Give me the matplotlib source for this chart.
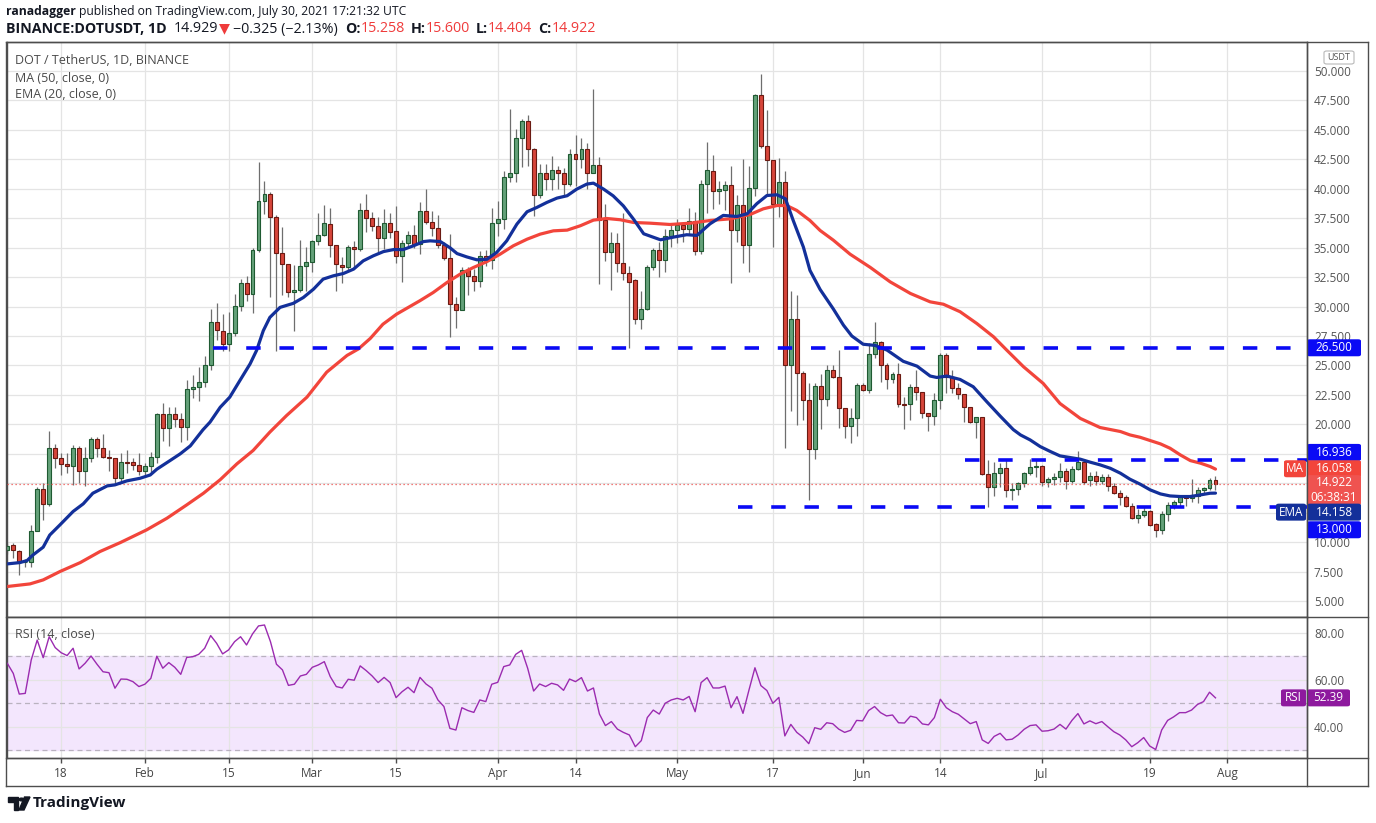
import matplotlib
matplotlib.use("Agg")
import matplotlib.pyplot as plt
import matplotlib.patches as mpatches
from matplotlib.lines import Line2D
import numpy as np
import pandas as pd

W, H = 1376, 823

# ---- data (DOT/USDT daily, Binance) ----
dates = pd.date_range("2021-01-09", "2021-07-30", freq="D")

opens = [9.34, 9.73, 9.28, 8.29, 8.29, 10.95, 14.49, 13.22, 17.97, 17.12,
         16.64, 16.47, 17.97, 16.05, 17.12, 18.74, 17.97, 17.20, 17.10, 15.42,
         16.84, 16.78, 16.52, 16.07, 16.44, 17.20, 20.86, 19.67, 20.86, 20.44,
         19.76, 22.99, 23.19, 23.59, 25.03, 28.68, 27.95, 26.82, 27.75, 30.04,
         31.99, 31.06, 34.79, 38.94, 39.56, 37.58, 34.53, 33.60, 31.23, 31.40,
         33.43, 33.80, 35.58, 36.09, 37.00, 35.19, 33.52, 33.32, 35.05, 34.93,
         38.18, 37.50, 36.82, 35.86, 37.10, 36.40, 34.28, 35.38, 36.06, 35.30,
         38.10, 37.14, 36.66, 35.24, 34.16, 30.20, 29.75, 33.09, 32.58, 32.13,
         34.28, 33.94, 37.08, 37.42, 40.96, 41.30, 44.30, 45.75, 43.37, 39.46,
         41.33, 40.82, 41.59, 41.33, 40.40, 42.95, 42.52, 43.37, 41.33, 42.01,
         37.37, 34.67, 35.38, 33.74, 32.89, 32.24, 28.96, 29.81, 33.38, 34.82,
         33.97, 35.98, 36.52, 36.94, 36.60, 37.28, 34.71, 40.42, 41.53, 39.83,
         39.89, 40.34, 36.52, 38.64, 35.19, 40.03, 47.98, 43.65, 42.46, 38.73,
         40.60, 25.06, 28.96, 24.38, 22.03, 17.92, 23.24, 22.17, 24.60, 23.98,
         21.35, 19.90, 20.50, 23.30, 22.88, 25.93, 27.00, 25.00, 23.81, 24.24,
         21.72, 21.69, 23.19, 22.71, 20.92, 20.72, 22.03, 25.88, 23.98, 23.05,
         22.54, 21.43, 20.22, 20.58, 15.74, 14.70, 15.83, 16.25, 14.40, 14.47,
         14.98, 15.85, 16.36, 16.47, 15.14, 15.34, 15.51, 16.02, 15.23, 16.19,
         16.84, 15.28, 15.65, 15.23, 15.51, 14.77, 14.21, 13.81, 13.10, 12.03,
         12.28, 12.65, 11.52, 11.01, 12.37, 13.13, 13.41, 13.81, 13.73, 13.95,
         14.43, 14.58, 15.258]
highs = [9.90, 9.96, 9.35, 8.55, 11.46, 14.66, 15.00, 19.44, 18.34, 17.55,
         17.55, 18.25, 18.17, 18.05, 18.90, 18.90, 19.20, 17.83, 17.18, 17.55,
         17.83, 17.12, 17.55, 16.70, 17.69, 20.95, 21.85, 21.50, 21.50, 20.95,
         23.80, 24.20, 24.90, 25.76, 29.78, 30.30, 29.36, 29.50, 31.06, 32.36,
         32.60, 34.96, 42.27, 40.66, 39.73, 37.78, 36.77, 33.60, 33.50, 35.66,
         35.07, 35.64, 37.95, 38.63, 38.40, 35.24, 34.22, 35.24, 35.58, 38.83,
         39.53, 38.04, 37.61, 38.26, 37.98, 38.55, 35.64, 36.43, 36.93, 38.90,
         40.00, 38.13, 37.80, 35.44, 36.20, 30.77, 33.37, 33.40, 33.20, 34.73,
         34.82, 38.33, 38.98, 41.47, 46.80, 45.06, 45.90, 46.30, 43.46, 42.10,
         42.10, 42.80, 41.93, 41.80, 43.40, 44.60, 44.30, 43.85, 48.50, 42.66,
         38.75, 36.37, 36.28, 37.96, 33.46, 32.30, 31.28, 33.50, 34.99, 35.47,
         36.60, 37.03, 37.45, 37.20, 38.36, 38.02, 40.76, 43.96, 42.83, 40.70,
         40.65, 41.90, 39.50, 42.50, 41.90, 48.07, 49.76, 46.70, 42.46, 42.63,
         41.47, 31.28, 31.00, 24.57, 23.50, 23.50, 24.29, 25.03, 25.00, 26.30,
         21.35, 21.35, 23.47, 23.53, 26.87, 28.65, 27.10, 25.17, 24.46, 25.25,
         22.28, 23.42, 24.60, 22.71, 20.92, 22.62, 26.08, 26.08, 24.60, 23.47,
         22.54, 21.49, 20.64, 20.64, 16.96, 16.82, 16.68, 16.96, 15.00, 15.12,
         15.97, 17.04, 16.98, 16.56, 15.57, 15.85, 16.70, 16.27, 16.42, 17.75,
         17.04, 15.99, 16.02, 15.79, 15.79, 15.06, 14.43, 14.00, 13.36, 12.79,
         13.02, 12.74, 11.60, 12.60, 13.44, 13.58, 14.00, 14.00, 15.34, 14.66,
         14.72, 15.48, 15.600]
lows = [9.00, 8.63, 7.22, 7.90, 7.90, 10.90, 11.85, 13.10, 16.27, 15.70,
        15.90, 14.86, 15.00, 14.77, 16.77, 17.20, 17.10, 16.00, 14.98, 15.14,
        15.90, 16.13, 15.70, 15.70, 15.96, 16.70, 18.55, 18.20, 19.80, 18.50,
        18.65, 22.26, 22.00, 23.20, 24.60, 27.20, 26.25, 26.25, 27.53, 29.60,
        30.50, 29.42, 34.67, 37.90, 30.77, 26.25, 31.00, 30.80, 27.95, 31.20,
        31.34, 32.95, 35.20, 36.00, 34.22, 31.34, 32.00, 33.04, 33.32, 34.73,
        36.30, 36.43, 34.45, 34.87, 35.86, 33.74, 32.05, 35.00, 35.00, 34.50,
        37.05, 36.00, 35.00, 33.94, 27.40, 28.20, 29.70, 31.00, 31.30, 31.70,
        33.43, 33.20, 35.95, 36.57, 40.60, 40.60, 41.84, 41.90, 37.70, 39.18,
        39.89, 39.86, 39.95, 39.40, 40.25, 40.25, 41.73, 39.97, 41.33, 31.95,
        33.88, 31.42, 32.97, 32.24, 26.50, 28.50, 28.10, 29.67, 33.12, 32.50,
        32.92, 35.05, 35.41, 35.47, 36.18, 34.34, 34.48, 37.93, 38.25, 38.67,
        38.20, 31.99, 35.47, 33.69, 32.92, 39.43, 43.48, 39.58, 35.05, 37.60,
        17.98, 21.12, 19.96, 20.33, 13.60, 17.07, 19.62, 21.55, 23.90, 19.65,
        18.80, 18.38, 19.00, 22.85, 22.62, 25.65, 23.60, 22.96, 23.47, 21.50,
        19.57, 20.36, 22.06, 20.50, 19.45, 19.93, 21.26, 22.62, 22.62, 22.11,
        20.20, 20.13, 18.80, 15.69, 13.00, 13.90, 14.70, 13.85, 13.60, 14.00,
        14.70, 15.70, 15.57, 14.77, 14.66, 14.86, 15.14, 14.49, 15.00, 16.08,
        14.94, 14.77, 14.86, 14.94, 14.38, 14.09, 13.16, 13.02, 11.94, 11.66,
        12.11, 11.38, 10.41, 10.70, 11.83, 12.79, 13.07, 13.07, 13.44, 13.36,
        14.15, 14.43, 14.404]
closes = [9.71, 9.34, 8.29, 8.35, 10.95, 14.49, 13.22, 17.97, 17.12, 16.60,
          16.47, 17.97, 16.05, 17.12, 18.74, 17.97, 17.20, 17.10, 15.42, 16.84,
          16.75, 16.52, 16.07, 16.44, 17.20, 20.86, 19.67, 20.86, 20.44, 19.76,
          22.99, 23.19, 23.59, 25.03, 28.68, 28.03, 26.82, 27.75, 30.04, 31.99,
          31.06, 34.79, 38.94, 39.56, 37.58, 34.53, 33.60, 31.23, 31.40, 33.43,
          33.80, 35.58, 36.09, 37.10, 35.19, 33.60, 33.32, 35.02, 34.93, 38.18,
          37.50, 36.82, 35.86, 37.10, 36.37, 34.28, 35.38, 36.06, 35.30, 38.10,
          37.14, 36.66, 35.24, 34.16, 30.20, 29.75, 33.14, 32.58, 32.13, 34.28,
          33.94, 37.08, 37.42, 40.96, 41.30, 44.30, 45.75, 43.37, 39.46, 41.33,
          40.82, 41.59, 41.33, 40.40, 42.95, 42.52, 43.37, 41.33, 42.01, 37.37,
          34.67, 35.38, 33.74, 32.89, 32.12, 28.95, 29.81, 33.38, 34.82, 33.97,
          35.98, 36.52, 36.94, 36.60, 37.28, 34.71, 40.42, 41.61, 39.83, 39.94,
          40.34, 36.52, 38.64, 35.19, 40.03, 47.98, 43.65, 42.46, 38.73, 40.60,
          25.06, 28.96, 24.38, 22.03, 17.92, 23.24, 22.17, 24.60, 23.98, 21.35,
          19.90, 20.50, 23.30, 22.88, 25.93, 27.00, 25.00, 23.81, 24.24, 21.69,
          21.66, 23.19, 22.71, 20.92, 20.72, 22.03, 25.88, 23.98, 23.05, 22.54,
          21.43, 20.22, 20.58, 15.74, 14.70, 15.83, 16.25, 14.41, 14.50, 14.98,
          15.85, 16.39, 16.47, 15.14, 15.34, 15.51, 16.02, 15.23, 16.19, 16.84,
          15.14, 15.65, 15.23, 15.51, 14.77, 14.21, 13.81, 13.10, 12.03, 12.28,
          12.65, 11.41, 11.01, 12.37, 13.13, 13.41, 13.81, 13.73, 14.01, 14.43,
          14.58, 15.26, 14.922]

# moving averages, sampled along the drawn lines (day index, value)
ma_days = [0, 3.8, 6.0, 8.8, 12.2, 15.5, 18.9, 23.3, 26.7, 30.0, 32.8, 35.6,
           38.4, 41.1, 43.9, 46.7, 50.1, 53.4, 56.8, 58.7, 60.7, 62.8, 65.1,
           69.0, 71.2, 73.5, 75.7, 77.9, 80.2, 82.4, 84.6, 86.9, 89.1, 91.3,
           93.6, 95.8, 98.0, 100.2, 102.5, 104.7, 107.5, 110.8, 114.2, 117.5,
           120.9, 124.2, 126.4, 128.7, 130.3, 132.0, 134.2, 135.9, 138.1, 140.9,
           144.3, 147.6, 151.0, 154.3, 156.5, 159.3, 162.1, 164.9, 167.1, 169.9,
           173.2, 176.0, 179.4, 182.7, 186.1, 187.7, 189.4, 191.1, 192.8, 194.4,
           196.1, 197.8, 199.5, 201.1, 202.0]
ma_vals = [6.23, 6.45, 6.79, 7.50, 8.26, 9.20, 9.96, 11.04, 12.03, 13.16, 14.15,
           15.30, 16.65, 17.78, 19.34, 20.75, 22.31, 24.43, 25.85, 26.40, 27.30,
           28.50, 29.36, 30.50, 31.19, 32.04, 32.75, 33.31, 33.82, 34.45, 35.16,
           35.72, 36.15, 36.43, 36.49, 36.86, 37.34, 37.48, 37.37, 37.14, 37.08,
           36.97, 37.08, 37.31, 37.45, 37.82, 38.30, 38.58, 38.58, 38.16, 37.31,
           36.46, 35.64, 34.45, 33.32, 32.10, 31.11, 30.40, 30.20, 29.56, 28.56,
           27.43, 26.30, 24.89, 23.47, 21.77, 20.50, 19.73, 19.39, 19.10, 18.90,
           18.62, 18.34, 17.97, 17.41, 16.92, 16.70, 16.42, 16.20]
ema_days = [0, 2.1, 3.3, 4.3, 6.0, 7.1, 8.8, 11.0, 12.7, 14.3, 16.7, 18.0,
            20.0, 22.2, 23.9, 25.0, 27.2, 28.9, 30.6, 32.7, 33.9, 35.6, 37.2,
            38.9, 40.6, 41.7, 42.8, 43.9, 45.6, 47.8, 49.5, 51.2, 52.8, 54.5,
            56.2, 57.9, 59.5, 61.2, 62.9, 64.6, 66.2, 67.9, 69.6, 70.7, 72.4,
            74.0, 75.2, 76.8, 78.5, 80.2, 81.8, 83.5, 85.2, 86.9, 88.5, 90.2,
            91.9, 93.6, 95.2, 96.9, 98.0, 99.7, 101.3, 103.0, 104.7, 106.4,
            109.2, 111.4, 113.6, 115.3, 117.5, 119.7, 122.0, 123.7, 125.3,
            127.0, 128.7, 130.1, 131.4, 133.1, 134.2, 135.9, 138.1, 139.8,
            141.2, 143.1, 145.1, 147.1, 149.8, 152.1, 154.3, 155.4, 157.1,
            159.3, 161.5, 163.8, 166.0, 168.2, 169.4, 171.0, 172.7, 174.4,
            176.0, 177.7, 179.4, 181.1, 182.7, 184.4, 186.1, 187.7, 189.4,
            191.1, 192.8, 194.4, 196.1, 197.8, 199.5, 201.1, 202.0]
ema_vals = [8.15, 8.26, 8.43, 8.91, 9.57, 10.60, 11.46, 12.60, 13.25, 14.15,
            14.77, 14.86, 15.20, 15.42, 15.70, 16.19, 16.92, 17.49, 18.17,
            19.53, 20.19, 21.45, 22.31, 23.73, 25.14, 26.30, 27.95, 29.08,
            29.93, 30.27, 30.77, 31.48, 32.33, 32.61, 32.81, 33.18, 33.88,
            34.31, 34.67, 34.84, 34.84, 35.16, 35.52, 35.58, 35.52, 35.00,
            34.50, 34.22, 33.97, 34.02, 34.59, 35.58, 37.00, 38.05, 38.41,
            38.84, 39.21, 39.41, 39.97, 40.40, 40.48, 39.97, 39.40, 38.55,
            37.42, 36.18, 35.67, 35.90, 36.10, 36.04, 37.03, 37.74, 37.65,
            37.88, 38.73, 39.43, 39.49, 39.15, 37.31, 35.05, 33.07, 31.45,
            29.80, 28.42, 27.50, 26.80, 26.70, 26.30, 25.35, 24.94, 24.10,
            23.98, 24.10, 23.81, 23.19, 21.90, 20.70, 19.55, 19.10, 18.68,
            18.11, 17.69, 17.32, 17.18, 17.04, 16.78, 16.56, 16.27, 15.85,
            15.34, 14.92, 14.43, 14.09, 13.92, 13.87, 13.87, 14.01, 14.15,
            14.16]

rsi = [67.1, 62.8, 54.0, 54.3, 68.5, 77.0, 69.5, 78.4, 73.8, 71.6,
       70.4, 73.5, 64.7, 67.1, 70.2, 66.7, 63.5, 63.1, 56.5, 60.4,
       60.3, 59.3, 57.2, 58.2, 60.7, 70.1, 65.0, 67.4, 65.4, 62.4,
       69.6, 69.9, 70.9, 73.5, 78.9, 75.6, 71.1, 72.8, 76.3, 78.4,
       74.9, 79.6, 83.0, 83.4, 76.3, 66.7, 64.3, 57.7, 58.2, 61.7,
       62.4, 65.4, 66.4, 67.8, 61.4, 57.2, 56.6, 60.3, 59.9, 66.0,
       64.0, 61.7, 58.9, 61.1, 58.9, 52.5, 55.0, 56.9, 54.6, 61.1,
       58.3, 56.5, 51.5, 48.7, 39.4, 38.7, 48.2, 47.0, 46.2, 51.5,
       50.8, 58.2, 59.0, 65.7, 66.4, 70.9, 72.6, 65.0, 55.3, 58.3,
       57.2, 58.6, 57.9, 55.6, 60.4, 59.3, 61.0, 55.3, 56.6, 45.5,
       40.6, 42.3, 39.1, 37.7, 36.6, 31.6, 34.2, 44.0, 47.2, 45.5,
       50.1, 51.5, 52.2, 51.5, 53.0, 46.5, 58.9, 61.0, 56.6, 56.6,
       57.4, 48.2, 52.9, 45.8, 55.7, 65.2, 57.6, 55.5, 50.1, 52.6,
       36.2, 41.1, 37.7, 35.7, 32.9, 39.7, 39.0, 41.8, 41.4, 39.1,
       37.7, 38.6, 42.8, 42.6, 47.0, 48.7, 46.1, 44.7, 45.1, 41.8,
       41.7, 44.6, 44.0, 41.3, 40.9, 44.0, 51.8, 48.2, 46.5, 45.4,
       43.4, 41.4, 42.3, 34.5, 33.0, 36.0, 37.3, 34.5, 34.8, 36.6,
       39.0, 40.6, 40.9, 38.2, 38.4, 39.1, 41.1, 39.1, 42.8, 45.7,
       41.3, 42.6, 41.4, 42.3, 40.1, 38.0, 36.6, 34.5, 31.6, 33.3,
       35.5, 31.9, 30.4, 38.7, 42.8, 44.3, 46.1, 46.1, 47.2, 49.6,
       50.8, 54.8, 52.4]

# horizontal levels drawn on the chart and the day each one starts
levels = [26.5, 16.936, 13.0]
level_start = [34.4, 160.2, 122.2]

tick_dates = ["2021-01-18", "2021-02-01", "2021-02-15", "2021-03-01", "2021-03-15",
              "2021-04-01", "2021-04-14", "2021-05-01", "2021-05-17", "2021-06-01",
              "2021-06-14", "2021-07-01", "2021-07-19", "2021-08-01"]
tick_labels = ["18", "Feb", "15", "Mar", "15", "Apr", "14", "May", "17", "Jun",
               "14", "Jul", "19", "Aug"]

last_price = 14.922
ma_last, ema_last, rsi_last = 16.058, 14.158, 52.39

# ---- styling ----
GREEN, GREEN_EDGE = "#64a179", "#1f5a32"
RED, RED_EDGE = "#d6453a", "#6a1a12"
WICK = "#6e6e6e"
EMA_C, MA_C = "#13309a", "#f2453b"
LVL_C = "#0a0af5"
FRAME = "#4d4d4d"
GRID = "#e4e4e4"
TXT = "#555555"
FONT = ["Open Sans", "DejaVu Sans"]
plt.rcParams["font.family"] = FONT


def fr(x0, y0, x1, y1):
    return [x0 / W, 1 - y1 / H, (x1 - x0) / W, (y1 - y0) / H]


fig = plt.figure(figsize=(W / 100, H / 100), dpi=100)
fig.patch.set_facecolor("white")
ax_p = fig.add_axes(fr(6.7, 41.7, 1307, 617))
ax_r = fig.add_axes(fr(6.7, 617, 1307, 758), sharex=ax_p)

x = np.arange(len(dates))
o, hi, lo, c = map(np.array, (opens, highs, lows, closes))
tick_pos = [(pd.Timestamp(d) - dates[0]).days for d in tick_dates]

for ax in (ax_p, ax_r):
    ax.set_facecolor("white")
    for s in ax.spines.values():
        s.set_color(FRAME)
        s.set_linewidth(1.0)
    ax.set_xticks(tick_pos)
    ax.grid(True, color=GRID, lw=0.9)
    ax.set_axisbelow(True)
    ax.yaxis.tick_right()

ax_p.set_xlim(-0.1, 217.3)
ax_p.set_ylim(3.64, 52.49)
ax_r.set_ylim(26.8, 86.8)

# price axis ticks
pticks = np.arange(5, 50.01, 2.5)
ax_p.set_yticks(pticks)
hidden = {17.5, 15.0, 12.5}
ax_p.set_yticklabels(["" if t in hidden else f"{t:.3f}" for t in pticks])
ax_p.tick_params(axis="y", length=0, pad=5, labelsize=8.5, labelcolor=TXT)
ax_p.tick_params(axis="x", length=0, labelbottom=False)

ax_r.set_yticks([40, 60, 80])
ax_r.set_yticklabels(["40.00", "60.00", "80.00"])
ax_r.tick_params(axis="y", length=0, pad=5, labelsize=8.5, labelcolor=TXT)
ax_r.set_xticklabels(tick_labels)
ax_r.tick_params(axis="x", length=3.5, width=1, color=FRAME, pad=3,
                 labelsize=8.5, labelcolor="#444444")

# candles
up = c >= o
ax_p.vlines(x, lo, hi, color=WICK, lw=0.9, zorder=2)
ax_p.bar(x[up], (c - o)[up], bottom=o[up], width=0.66, color=GREEN,
         edgecolor=GREEN_EDGE, lw=0.8, zorder=3)
ax_p.bar(x[~up], (c - o)[~up], bottom=o[~up], width=0.66, color=RED,
         edgecolor=RED_EDGE, lw=0.8, zorder=3)

# moving averages
ax_p.plot(ma_days, ma_vals, color=MA_C, lw=2.3, zorder=5, solid_capstyle="round")
ax_p.plot(ema_days, ema_vals, color=EMA_C, lw=2.3, zorder=6, solid_capstyle="round")

# drawn levels
for lvl, st in zip(levels, level_start):
    ax_p.plot([st, 217.3], [lvl, lvl], color=LVL_C, lw=2.6, dashes=(4.0, 5.2),
              solid_capstyle="butt", dash_capstyle="butt", zorder=7)

ax_p.axhline(last_price, color="#ef5350", lw=0.9, ls=(0, (1, 2.2)), zorder=4)

# RSI pane
ax_r.axhspan(30, 70, color="#f3e6fd", zorder=0)
for lv in (70, 50, 30):
    ax_r.axhline(lv, color="#b9b2bf", lw=0.9, ls=(0, (4, 3)), zorder=1)
ax_r.plot(x, rsi, color="#9b2bb0", lw=1.0, zorder=4)

# ---- texts inside panes ----
def ftext(px, py, s, **kw):
    return fig.text(px / W, 1 - py / H, s, **kw)


ftext(15, 61, "DOT / TetherUS, 1D, BINANCE", fontsize=9, color="#4a4a4a", va="center")
ftext(15, 78, "MA (50, close, 0)", fontsize=9, color="#4a4a4a", va="center")
ftext(15, 94, "EMA (20, close, 0)", fontsize=9, color="#4a4a4a", va="center")
ftext(15, 635, "RSI (14, close)", fontsize=9, color="#4a4a4a", va="center")

# header
rend = fig.canvas.get_renderer()


def seq(px, py, parts, size=9):
    for s, kw in parts:
        t = ftext(px, py, s, fontsize=size, va="center", ha="left",
                  color=kw.get("color", "#131722"), fontweight=kw.get("weight", "normal"),
                  family=FONT)
        px += t.get_window_extent(renderer=rend).width + kw.get("gap", 0)


RD = "#ef3b3b"
seq(6, 12, [("ranadagger", {"weight": "bold", "gap": 3}),
            ("published on TradingView.com, July 30, 2021 17:21:32 UTC", {})], size=8.7)
seq(6, 29, [("BINANCE:DOTUSDT, 1D", {"weight": "bold", "gap": 7}),
            ("14.929", {"gap": 1}), ("\u25bc", {"color": RD, "gap": 3}),
            ("\u22120.325 (\u22122.13%)", {"gap": 7}),
            ("O:", {"weight": "bold"}), ("15.258", {"color": RD, "gap": 6}),
            ("H:", {"weight": "bold"}), ("15.600", {"color": RD, "gap": 6}),
            ("L:", {"weight": "bold"}), ("14.404", {"color": RD, "gap": 6}),
            ("C:", {"weight": "bold"}), ("14.922", {"color": RD})], size=10.3)

# ---- frame lines ----
for yy in (41.7, 617, 758, 786):
    fig.add_artist(Line2D([6 / W, 1368 / W], [1 - yy / H, 1 - yy / H], color=FRAME, lw=1.0))
for xx in (6, 1307, 1368):
    fig.add_artist(Line2D([xx / W, xx / W], [1 - 41.7 / H, 1 - 786 / H], color=FRAME, lw=1.0))


# ---- price scale tags ----
def tag(ax, value, text, bg, dy=0, x0=1307, x1=1361, h=17, size=8.5, fg="white"):
    yd = ax.transData.transform((0, value))[1] + dy
    ytop = H - yd
    fig.add_artist(mpatches.FancyBboxPatch(
        (x0 / W, 1 - (ytop + h / 2) / H), (x1 - x0) / W, h / H,
        boxstyle="round,pad=0,rounding_size=0.002", transform=fig.transFigure,
        facecolor=bg, edgecolor=bg, lw=0))
    ftext((x0 + x1) / 2, ytop, text, ha="center", va="center", color=fg,
          fontsize=size, linespacing=1.15)


tag(ax_p, levels[0], "26.500", LVL_C)
tag(ax_p, levels[1], "16.936", LVL_C, dy=8)
tag(ax_p, ma_last, "16.058", MA_C, dy=2)
tag(ax_p, ma_last, "MA", MA_C, dy=2, x0=1284, x1=1306)
tag(ax_p, last_price, "14.922\n06:38:31", "#ef5350", dy=-6, h=30)
tag(ax_p, ema_last, "14.158", EMA_C, dy=-19)
tag(ax_p, ema_last, "EMA", EMA_C, dy=-19, x0=1276, x1=1306)
tag(ax_p, levels[2], "13.000", LVL_C, dy=-23)
tag(ax_r, rsi_last, "52.39", "#8e1a9e", x1=1350)
tag(ax_r, rsi_last, "RSI", "#8e1a9e", x0=1281, x1=1306)

# currency label
fig.add_artist(mpatches.FancyBboxPatch((1324 / W, 1 - 64 / H), 30 / W, 13 / H,
               boxstyle="round,pad=0,rounding_size=0.002", transform=fig.transFigure,
               facecolor="white", edgecolor="#b8b8b8", lw=0.8))
ftext(1339, 57.5, "USDT", ha="center", va="center", fontsize=6.5, color="#555555")

# ---- footer logo ----
fig.add_artist(mpatches.Polygon(
    [(8 / W, 1 - 797 / H), (18 / W, 1 - 797 / H), (18 / W, 1 - 810 / H), (13.5 / W, 1 - 810 / H),
     (13.5 / W, 1 - 801.5 / H), (8 / W, 1 - 801.5 / H)], closed=True,
    transform=fig.transFigure, color="#131722"))
fig.add_artist(mpatches.Circle((21.5 / W, 1 - 799.5 / H), 2.3 / W,
               transform=fig.transFigure, color="#131722"))
fig.add_artist(mpatches.Polygon(
    [(24.5 / W, 1 - 797 / H), (30 / W, 1 - 797 / H), (24 / W, 1 - 810 / H), (19 / W, 1 - 810 / H)],
    closed=True, transform=fig.transFigure, color="#131722"))
ftext(33, 803.5, "TradingView", ha="left", va="center", fontsize=11,
      fontweight="bold", color="#131722")

fig.savefig("out.png", dpi=100, facecolor="white")
